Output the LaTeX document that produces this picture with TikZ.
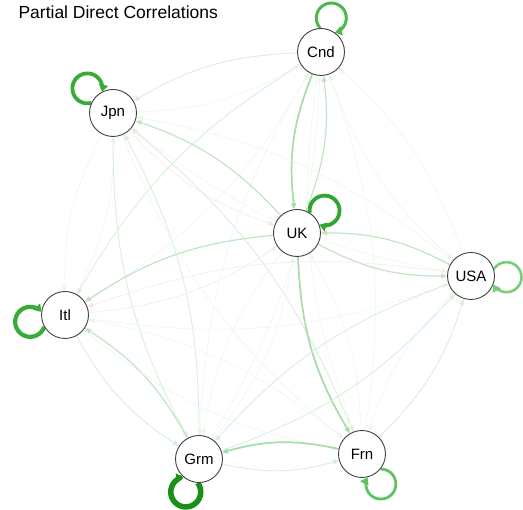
\documentclass[tikz,border=0pt]{standalone}
\usepackage{fontspec}
\setmainfont{Liberation Sans}
\usetikzlibrary{arrows.meta,backgrounds}
\definecolor{pg}{RGB}{60,175,60}
\definecolor{ng}{RGB}{230,110,140}
\definecolor{lpC}{RGB}{75,185,75}
\definecolor{lpJ}{RGB}{55,172,55}
\definecolor{lpU}{RGB}{48,165,48}
\definecolor{lpA}{RGB}{120,205,120}
\definecolor{lpI}{RGB}{55,172,55}
\definecolor{lpG}{RGB}{25,145,25}
\definecolor{lpF}{RGB}{95,195,95}
\begin{document}
\begin{tikzpicture}[x=1pt,y=1pt,
  vx/.style={circle, draw=black!75, line width=0.9pt, fill=white, minimum size=47pt, inner sep=0pt, font=\fontsize{15}{17}\selectfont},
  ebase/.style={-{Triangle[length=6pt,width=5pt]}, bend right=14},
  fnt/.style={ebase, draw=pg!10, line width=0.6pt},
  lgt/.style={ebase, draw=pg!20, line width=0.9pt},
  md/.style={ebase, draw=pg!32, line width=1.2pt},
  stg/.style={ebase, draw=pg!45, line width=1.7pt},
  ngf/.style={ebase, draw=ng!18, line width=0.6pt},
  lp/.style={-{Triangle[length=7pt,width=9pt]}}
]
\useasboundingbox (0,0) rectangle (523,510);
\node[anchor=west, font=\fontsize{17.5}{20}\selectfont] (title) at (15,498) {Partial Direct Correlations};

\node[vx] (C) at (321,458) {Cnd};
\node[vx] (J) at (113,397) {Jpn};
\node[vx] (U) at (297,277) {UK};
\node[vx] (A) at (471,234) {USA};
\node[vx] (I) at (65,195) {Itl};
\node[vx] (G) at (199,51) {Grm};
\node[vx] (F) at (362,56) {Frn};

\begin{scope}[on background layer]
% Cnd
\draw[lgt] (C) to (J);  \draw[fnt] (J) to (C);
\draw[stg] (C) to (U);  \draw[md]  (U) to (C);
\draw[fnt] (C) to (A);  \draw[fnt] (A) to (C);
\draw[lgt] (C) to (I);  \draw[fnt] (I) to (C);
\draw[fnt] (C) to (G);  \draw[fnt] (G) to (C);
\draw[fnt] (C) to (F);  \draw[fnt] (F) to (C);
% Jpn
\draw[ngf] (J) to (U);  \draw[md]  (U) to (J);
\draw[fnt] (J) to (A);  \draw[fnt] (A) to (J);
\draw[fnt] (J) to (I);  \draw[fnt] (I) to (J);
\draw[lgt] (J) to (G);  \draw[lgt] (G) to (J);
\draw[fnt] (J) to (F);  \draw[lgt] (F) to (J);
% UK
\draw[md]  (U) to (A);  \draw[md]  (A) to (U);
\draw[md]  (U) to (I);  \draw[ngf] (I) to (U);
\draw[fnt] (U) to (G);  \draw[fnt] (G) to (U);
\draw[stg] (U) to (F);  \draw[fnt] (F) to (U);
% USA
\draw[ngf] (A) to (I);  \draw[fnt] (I) to (A);
\draw[lgt] (A) to (G);  \draw[lgt] (G) to (A);
\draw[fnt] (A) to (F);  \draw[lgt] (F) to (A);
% Itl
\draw[lgt] (I) to (G);  \draw[md]  (G) to (I);
\draw[fnt] (I) to (F);  \draw[fnt] (F) to (I);
% Grm
\draw[lgt] (G) to (F);  \draw[stg] (F) to (G);

% self loops
\draw[lp, draw=lpC, line width=3pt]   (C.92)  arc[start angle=222, end angle=-76, radius=15];
\draw[lp, draw=lpJ, line width=3.8pt] (J.155) arc[start angle=285, end angle=-13, radius=15];
\draw[lp, draw=lpU, line width=3.8pt] (U.58)  arc[start angle=188, end angle=-110, radius=15];
\draw[lp, draw=lpA, line width=2.6pt] (A.17)  arc[start angle=147, end angle=-151, radius=15];
\draw[lp, draw=lpI, line width=4.2pt] (I.210) arc[start angle=340, end angle=42, radius=15];
\draw[lp, draw=lpG, line width=5.5pt] (G.267) arc[start angle=397, end angle=99, radius=15];
\draw[lp, draw=lpF, line width=2.8pt] (F.321) arc[start angle=451, end angle=153, radius=15];
\end{scope}
\end{tikzpicture}
\end{document}
